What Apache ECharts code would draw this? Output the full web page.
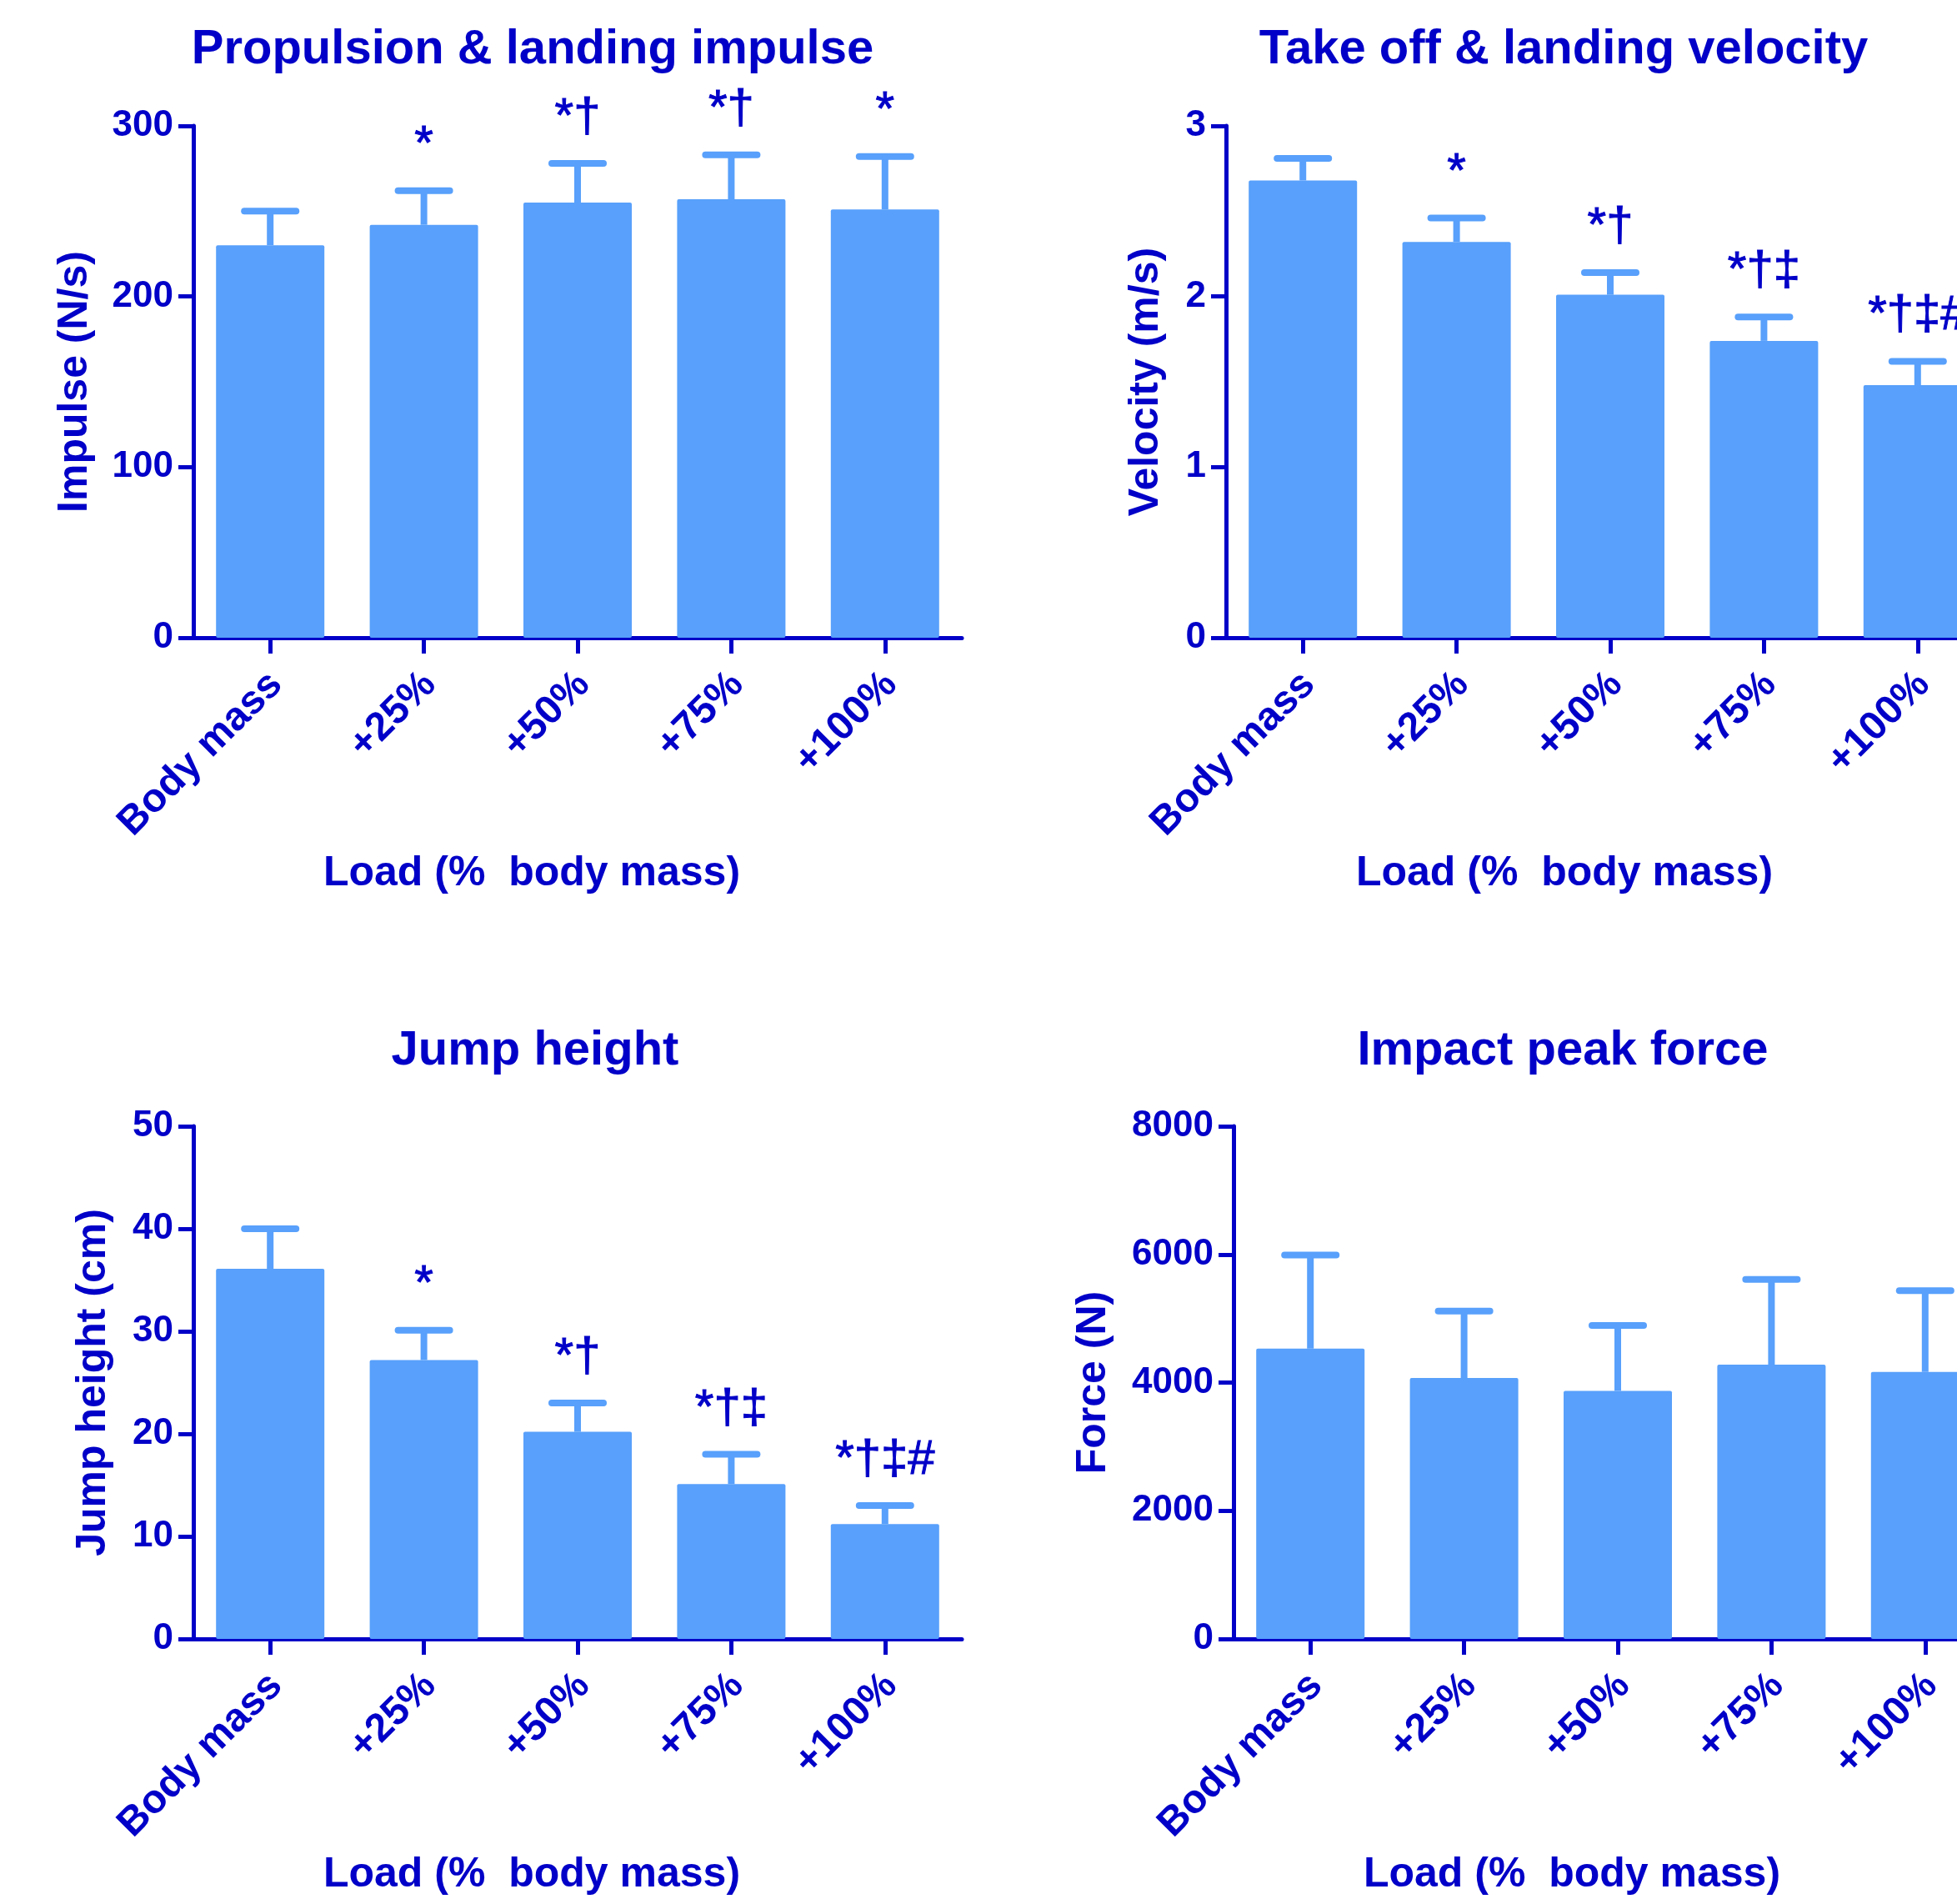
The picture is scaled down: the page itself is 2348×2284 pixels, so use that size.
<!DOCTYPE html>
<html>
<head>
<meta charset="utf-8">
<title>Loaded jump outcomes</title>
<script src="https://cdn.jsdelivr.net/npm/echarts@6/dist/echarts.min.js"></script>
<style>
  html, body { margin: 0; padding: 0; background: #ffffff; overflow: hidden; }
  /* the right-hand panels run past the page edge, so the canvas is wider than the page */
  #chart { width: 2420px; height: 2284px; }
</style>
</head>
<body>
<div id="chart"></div>
<script>
// Load conditions shared by all four panels
const categories = ['Body mass', '+25%', '+50%', '+75%', '+100%'];

// Propulsion & landing impulse (N/s): mean and SD
const impulseMean = [230, 242, 255, 257, 251];
const impulseSD = [20, 20, 23, 26, 31];
const impulseMarks = ['', '*', '*†', '*†', '*'];

// Take off & landing velocity (m/s)
const velocityMean = [2.68, 2.32, 2.01, 1.74, 1.48];
const velocitySD = [0.13, 0.14, 0.13, 0.14, 0.14];
const velocityMarks = ['', '*', '*†', '*†‡', '*†‡#'];

// Jump height (cm)
const heightMean = [36.1, 27.2, 20.2, 15.1, 11.2];
const heightSD = [3.9, 2.9, 2.8, 2.9, 1.8];
const heightMarks = ['', '*', '*†', '*†‡', '*†‡#'];

// Impact peak force (N)
const forceMean = [4530, 4070, 3870, 4280, 4165];
const forceSD = [1460, 1045, 1020, 1330, 1270];
const forceMarks = ['', '', '', '', ''];

const INK = '#0000C8';
const BAR = '#58A0FB';
const FONT = '"Liberation Sans", Arial, sans-serif';

const chart = echarts.init(document.getElementById('chart'), null, { renderer: 'canvas', devicePixelRatio: 1 });

// Upper-only error bar with a rounded cap and a significance mark above it
function errorBarRenderer(marks) {
  return function (params, api) {
    const i = api.value(0);
    const base = api.coord([i, api.value(1)]);
    const top = api.coord([i, api.value(2)]);
    const x = base[0];
    const capHalf = 31;
    const children = [
      { type: 'line', shape: { x1: x, y1: base[1], x2: x, y2: top[1] },
        style: { stroke: BAR, lineWidth: 8 } },
      { type: 'line', shape: { x1: x - capHalf, y1: top[1], x2: x + capHalf, y2: top[1] },
        style: { stroke: BAR, lineWidth: 8, lineCap: 'round' } }
    ];
    const mark = marks[params.dataIndex];
    if (mark) {
      children.push({ type: 'text', x: x, y: top[1] - 54,
        style: { text: mark, fill: INK, align: 'center', verticalAlign: 'middle',
                 font: 'normal 58px ' + FONT, stroke: INK, lineWidth: 1 } });
    }
    return { type: 'group', children: children };
  };
}

function errorData(mean, sd) {
  return mean.map((m, i) => [i, m, +(m + sd[i]).toFixed(4)]);
}

const panels = [
  { title: 'Propulsion & landing impulse', titleX: 639, titleTop: 31, left: 232, top: 151, height: 614,
    yName: 'Impulse (N/s)', yGap: 117, max: 300, interval: 100,
    mean: impulseMean, sd: impulseSD, marks: impulseMarks },
  { title: 'Take off & landing velocity', titleX: 1876, titleTop: 31, left: 1471, top: 151, height: 614,
    yName: 'Velocity (m/s)', yGap: 71, max: 3, interval: 1,
    mean: velocityMean, sd: velocitySD, marks: velocityMarks },
  { title: 'Jump height', titleX: 642, titleTop: 1232, left: 232, top: 1351, height: 615,
    yName: 'Jump height (cm)', yGap: 95, max: 50, interval: 10,
    mean: heightMean, sd: heightSD, marks: heightMarks },
  { title: 'Impact peak force', titleX: 1875, titleTop: 1232, left: 1480, top: 1351, height: 615,
    yName: 'Force (N)', yGap: 143, max: 8000, interval: 2000,
    mean: forceMean, sd: forceSD, marks: forceMarks }
];

const axisLineStyle = { color: INK, width: 5 };

const option = {
  animation: false,
  backgroundColor: '#ffffff',
  textStyle: { fontFamily: FONT },
  title: panels.map(p => ({
    text: p.title, left: p.titleX, top: p.titleTop, textAlign: 'center', padding: 0,
    textStyle: { color: INK, fontSize: 58, fontWeight: 'bold', fontFamily: FONT }
  })),
  grid: panels.map(p => ({ left: p.left, top: p.top, width: 922, height: p.height, containLabel: false })),
  xAxis: panels.map((p, k) => ({
    type: 'category', gridIndex: k, data: categories,
    name: 'Load (%  body mass)', nameLocation: 'middle', nameGap: 258,
    nameTextStyle: { color: INK, fontSize: 50, fontWeight: 'bold', fontFamily: FONT, padding: [0, 110, 0, 0] },
    axisLine: { show: true, lineStyle: axisLineStyle },
    axisTick: { show: true, alignWithLabel: true, length: 19, lineStyle: axisLineStyle },
    // slanted labels, nudged along their own direction so each ends just past its tick
    axisLabel: { rotate: 45, margin: 56, color: INK, fontSize: 48, fontWeight: 'bold', fontFamily: FONT,
                 interval: 0, padding: [0, -10, 0, 0] },
    splitLine: { show: false }
  })),
  yAxis: panels.map((p, k) => ({
    type: 'value', gridIndex: k, min: 0, max: p.max, interval: p.interval,
    name: p.yName, nameLocation: 'middle', nameGap: p.yGap,
    nameTextStyle: { color: INK, fontSize: 50, fontWeight: 'bold', fontFamily: FONT },
    axisLine: { show: true, lineStyle: axisLineStyle },
    axisTick: { show: true, length: 18, lineStyle: axisLineStyle },
    axisLabel: { margin: 24, color: INK, fontSize: 44, fontWeight: 'bold', fontFamily: FONT,
                 formatter: v => String(v) },
    splitLine: { show: false }
  })),
  series: panels.flatMap((p, k) => [
    { type: 'bar', xAxisIndex: k, yAxisIndex: k, data: p.mean, barWidth: 130,
      itemStyle: { color: BAR, borderRadius: 2 }, silent: true },
    { type: 'custom', xAxisIndex: k, yAxisIndex: k, data: errorData(p.mean, p.sd),
      renderItem: errorBarRenderer(p.marks), clip: false, silent: true, z: 3 }
  ])
};

chart.setOption(option);
</script>
</body>
</html>
